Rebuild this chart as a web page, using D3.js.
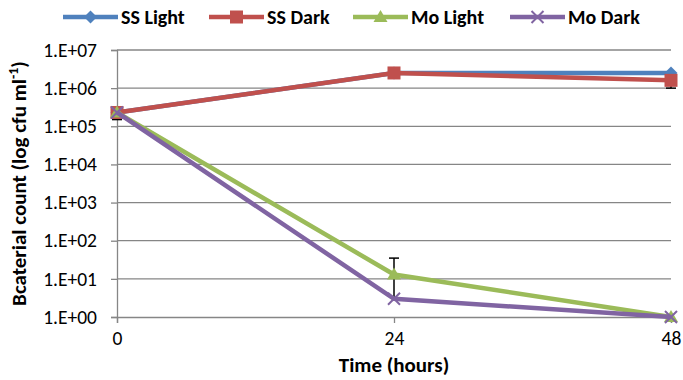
<!DOCTYPE html>
<html>
<head>
<meta charset="utf-8">
<script src="https://cdn.jsdelivr.net/npm/d3@7"></script>
<style>
  body { margin: 0; background: #fff; }
  svg text { font-family: Carlito, "Open Sans", "Liberation Sans", sans-serif; fill: #000; }
</style>
</head>
<body>
<div id="chart"></div>
<script>
// Data
const hours = [0, 24, 48];
const ssLight = [230000, 2500000, 2500000];
const ssDark = [230000, 2500000, 1600000];
const moLight = [230000, 13, 1];
const moDark = [230000, 3, 1];
const yTicks = [1, 10, 100, 1000, 10000, 100000, 1000000, 10000000];
const xTicks = [0, 24, 48];

// error bars (hour, upper, lower) - mostly hidden behind markers
const errHour = [24, 0, 48];
const errHigh = [35, 230000, 1600000];
const errLow = [3, 150000, 1000000];

const series = [
  { name: "SS Light", values: ssLight, color: "#4F81BD", marker: "diamond" },
  { name: "SS Dark", values: ssDark, color: "#C0504D", marker: "square" },
  { name: "Mo Light", values: moLight, color: "#9BBB59", marker: "triangle" },
  { name: "Mo Dark", values: moDark, color: "#8064A2", marker: "x" }
];

const W = 683, H = 380;
const margin = { top: 50, right: 12, bottom: 63, left: 117 };

const svg = d3.select("#chart")
  .append("svg")
  .attr("width", W)
  .attr("height", H);

const x = d3.scaleLinear()
  .domain([0, 48])
  .range([margin.left, W - margin.right]);

const y = d3.scaleLog()
  .domain([1, 1e7])
  .range([H - margin.bottom, margin.top]);

// Gridlines
svg.append("g")
  .selectAll("line")
  .data(yTicks.slice(1))
  .enter()
  .append("line")
  .attr("x1", x(0)).attr("x2", x(48))
  .attr("y1", d => y(d)).attr("y2", d => y(d))
  .attr("stroke", "#868686")
  .attr("stroke-width", 1.3);

// Y axis
const yAxis = svg.append("g")
  .attr("transform", `translate(${x(0)},0)`)
  .call(d3.axisLeft(y)
    .tickValues(yTicks)
    .tickSize(6)
    .tickFormat(d => "1.E+" + String(Math.round(Math.log10(d))).padStart(2, "0")));
yAxis.select(".domain").attr("stroke", "#868686").attr("stroke-width", 1.3);
yAxis.selectAll(".tick line").attr("stroke", "#868686").attr("stroke-width", 1.3);
yAxis.selectAll("text").style("font-size", "19.5px").attr("x", -20);

// X axis
const xAxis = svg.append("g")
  .attr("transform", `translate(0,${y(1)})`)
  .call(d3.axisBottom(x).tickValues(xTicks).tickSize(6).tickFormat(d3.format("d")));
xAxis.select(".domain").attr("stroke", "#868686").attr("stroke-width", 1.3);
xAxis.selectAll(".tick line").attr("stroke", "#868686").attr("stroke-width", 1.3);
xAxis.selectAll("text").style("font-size", "19.5px").attr("y", 14);

// Axis titles
svg.append("text")
  .attr("transform", `translate(26,${(y(1) + y(1e7)) / 2}) rotate(-90)`)
  .attr("text-anchor", "middle")
  .style("font-size", "21px")
  .style("font-weight", "bold")
  .html('Bcaterial count (log cfu ml<tspan dy="-8" style="font-size:14px">-1</tspan><tspan dy="8">)</tspan>');

svg.append("text")
  .attr("x", x(24))
  .attr("y", 372)
  .attr("text-anchor", "middle")
  .style("font-size", "21px")
  .style("font-weight", "bold")
  .text("Time (hours)");

// Error bars
errHour.forEach((h, i) => {
  svg.append("line")
    .attr("x1", x(h)).attr("x2", x(h))
    .attr("y1", y(errHigh[i])).attr("y2", y(errLow[i]))
    .attr("stroke", "#000").attr("stroke-width", 1.5);
  const capY = i === 0 ? y(errHigh[i]) : y(errLow[i]);
  svg.append("line")
    .attr("x1", x(h) - 5).attr("x2", x(h) + 5)
    .attr("y1", capY).attr("y2", capY)
    .attr("stroke", "#000").attr("stroke-width", 1.5);
});

// Marker shapes
function drawMarker(g, type, cx, cy, color) {
  if (type === "diamond") {
    g.append("path").attr("d", `M${cx},${cy - 6.5}L${cx + 6.5},${cy}L${cx},${cy + 6.5}L${cx - 6.5},${cy}Z`).attr("fill", color);
  } else if (type === "square") {
    g.append("rect").attr("x", cx - 6.5).attr("y", cy - 6.5).attr("width", 13).attr("height", 13).attr("fill", color);
  } else if (type === "triangle") {
    g.append("path").attr("d", `M${cx},${cy - 7}L${cx + 7},${cy + 5}L${cx - 7},${cy + 5}Z`).attr("fill", color);
  } else {
    g.append("path").attr("d", `M${cx - 6},${cy - 6}L${cx + 6},${cy + 6}M${cx - 6},${cy + 6}L${cx + 6},${cy - 6}`)
      .attr("stroke", color).attr("stroke-width", 2).attr("fill", "none");
  }
}

const line = d3.line()
  .x((d, i) => x(hours[i]))
  .y(d => y(d));

series.forEach(s => {
  const g = svg.append("g");
  g.append("path")
    .attr("d", line(s.values))
    .attr("fill", "none")
    .attr("stroke", s.color)
    .attr("stroke-width", 4.5);
  s.values.forEach((v, i) => drawMarker(g, s.marker, x(hours[i]), y(v), s.color));
});

// Legend
const legendX = [63, 209, 353, 510];
series.forEach((s, i) => {
  const g = svg.append("g");
  const lx = legendX[i];
  g.append("line")
    .attr("x1", lx).attr("x2", lx + 55)
    .attr("y1", 17).attr("y2", 17)
    .attr("stroke", s.color).attr("stroke-width", 4.5);
  drawMarker(g, s.marker, lx + 27.5, 17, s.color);
  g.append("text")
    .attr("x", lx + 58)
    .attr("y", 24)
    .style("font-size", "20px")
    .style("font-weight", "bold")
    .text(s.name);
});
</script>
</body>
</html>
